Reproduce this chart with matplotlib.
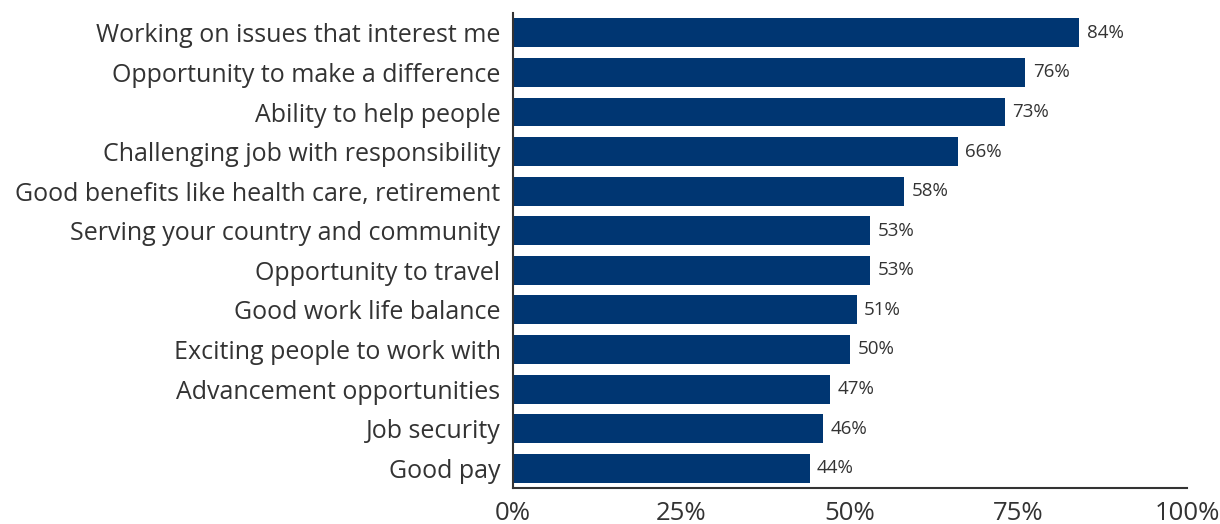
import matplotlib.pyplot as plt

categories = [
    'Working on issues that interest me',
    'Opportunity to make a difference',
    'Ability to help people',
    'Challenging job with responsibility',
    'Good benefits like health care, retirement',
    'Serving your country and community',
    'Opportunity to travel',
    'Good work life balance',
    'Exciting people to work with',
    'Advancement opportunities',
    'Job security',
    'Good pay',
]
values = [84, 76, 73, 66, 58, 53, 53, 51, 50, 47, 46, 44]
ticks = [0, 25, 50, 75, 100]
tick_labels = ['0%', '25%', '50%', '75%', '100%']

plt.rcParams['font.family'] = ['Open Sans', 'DejaVu Sans']

fig = plt.figure(figsize=(12.2, 5.24), dpi=100)
ax = fig.add_axes([0.4205, 0.0687, 0.5525, 0.9063])

pos = list(range(len(categories)))
ax.barh(pos, values, height=0.73, color='#003672')

# valeurs à droite des barres
for p, v in zip(pos, values):
    ax.text(v + 1.1, p, f'{v}%', va='center', ha='left', fontsize=13.5, color='#333333')

ax.set_xlim(0, 100)
ax.set_ylim(len(categories) - 0.5, -0.5)
ax.set_yticks(pos)
ax.set_yticklabels(categories, fontsize=18, color='#333333')
ax.set_xticks(ticks)
ax.set_xticklabels(tick_labels, fontsize=18.5, color='#333333')
ax.tick_params(length=0, axis='y', pad=9)
ax.tick_params(length=0, axis='x', pad=9)

for s in ['top', 'right']:
    ax.spines[s].set_visible(False)
for s in ['left', 'bottom']:
    ax.spines[s].set_color('#333333')
    ax.spines[s].set_linewidth(1.5)

fig.savefig('out.png', dpi=100)
